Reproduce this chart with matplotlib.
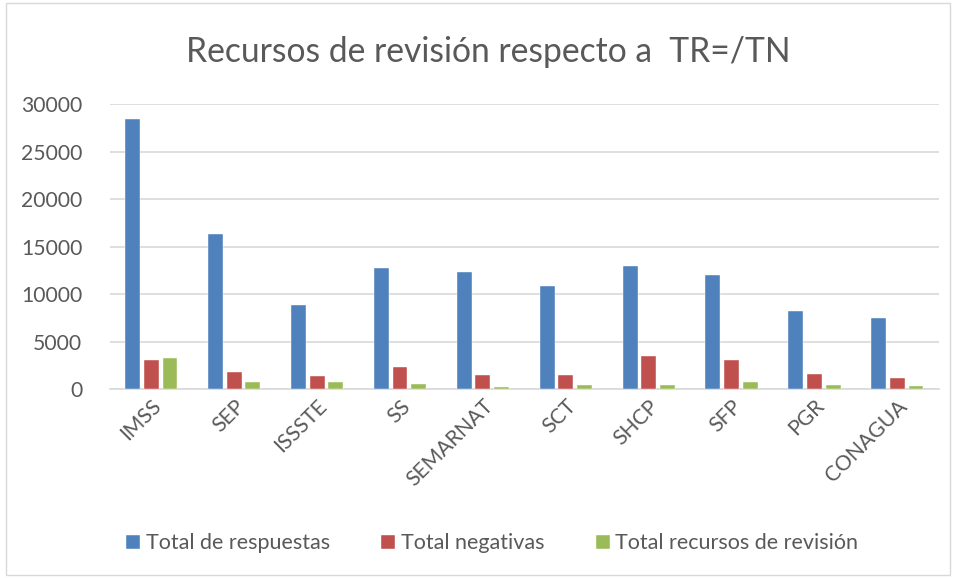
import matplotlib.pyplot as plt
import numpy as np
from matplotlib.patches import Rectangle

plt.rcParams['font.family'] = ['Lato', 'DejaVu Sans']

dependencias = ["IMSS", "SEP", "ISSSTE", "SS", "SEMARNAT", "SCT", "SHCP", "SFP", "PGR", "CONAGUA"]
total_respuestas = [28400, 16340, 8840, 12710, 12290, 10810, 12920, 12040, 8240, 7430]
total_negativas = [3000, 1830, 1410, 2290, 1510, 1440, 3520, 3100, 1620, 1160]
total_recursos = [3240, 740, 700, 560, 210, 460, 390, 740, 460, 320]

azul = '#4F81BD'
rojo = '#C0504D'
verde = '#9BBB59'
gris_texto = '#595959'

fig = plt.figure(figsize=(9.56, 5.78), dpi=100)
fig.patches.append(Rectangle((0.006, 0.006), 0.988, 0.988, transform=fig.transFigure,
                             fill=False, edgecolor='#D9D9D9', linewidth=1))
ax = fig.add_axes([0.115, 0.327, 0.867, 0.493])

x = np.arange(len(dependencias))
ancho = 0.18
sep = 0.225
ax.bar(x - sep, total_respuestas, ancho, color=azul, edgecolor='white', linewidth=0.3, label="Total de respuestas", zorder=3)
ax.bar(x, total_negativas, ancho, color=rojo, edgecolor='white', linewidth=0.3, label="Total negativas", zorder=3)
ax.bar(x + sep, total_recursos, ancho, color=verde, edgecolor='white', linewidth=0.3, label="Total recursos de revisión", zorder=3)

ax.set_xlim(-0.5, len(dependencias) - 0.5)
ax.set_ylim(0, 30000)
ax.set_yticks(np.arange(0, 30001, 5000))
ax.yaxis.grid(True, color='#D9D9D9', linewidth=1.2, zorder=0)
ax.set_axisbelow(True)
for s in ['top', 'right', 'left']:
    ax.spines[s].set_visible(False)
ax.spines['bottom'].set_color('#D9D9D9')
ax.spines['bottom'].set_linewidth(1.2)
ax.tick_params(axis='both', length=0, labelsize=15.2, labelcolor=gris_texto)
ax.tick_params(axis='y', pad=20)
ax.tick_params(axis='x', pad=5)
ax.set_xticks(x)
ax.set_xticklabels(dependencias, rotation=45, ha='right', rotation_mode='anchor')

fig.text(0.511, 0.91, "Recursos de revisión respecto a  TR=/TN", ha='center', va='center',
         fontsize=24.2, color=gris_texto)

handles, labels = ax.get_legend_handles_labels()
fig.legend(handles, labels, loc='center', bbox_to_anchor=(0.515, 0.06), ncol=3, frameon=False,
           fontsize=15.5, labelcolor=gris_texto, handlelength=0.65, handleheight=0.65,
           handletextpad=0.25, columnspacing=2.4)

fig.savefig("out.png", dpi=100)
